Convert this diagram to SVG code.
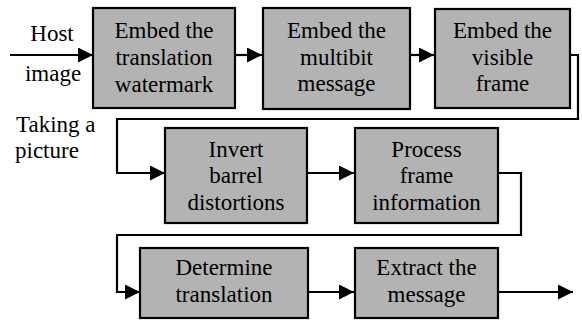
<svg xmlns="http://www.w3.org/2000/svg" width="582" height="321" viewBox="0 0 582 321">
<defs>
<marker id="ah" viewBox="0 0 15 15" refX="15" refY="7.5" markerWidth="15" markerHeight="15" markerUnits="userSpaceOnUse" orient="auto">
<path d="M0,0 L15,7.5 L0,15 Z" fill="#000"/>
</marker>
</defs>
<rect width="582" height="321" fill="#fff"/>
<g id="connectors" fill="none" stroke="#000" stroke-width="2.2">
<line x1="10" y1="55" x2="93" y2="55" marker-end="url(#ah)"/>
<line x1="235" y1="55" x2="262" y2="55" marker-end="url(#ah)"/>
<line x1="410" y1="55" x2="434" y2="55" marker-end="url(#ah)"/>
<polyline points="570,55 578,55 578,119 117,119 117,173 165,173" marker-end="url(#ah)"/>
<line x1="307" y1="173" x2="354" y2="173" marker-end="url(#ah)"/>
<polyline points="498,173 521,173 521,235 117,235 117,292 140,292" marker-end="url(#ah)"/>
<line x1="308" y1="292" x2="354" y2="292" marker-end="url(#ah)"/>
<line x1="498" y1="292" x2="573" y2="292" marker-end="url(#ah)"/>
</g>
<g font-family="Liberation Serif" font-size="23">
<g id="label-host" text-anchor="middle">
<text x="52" y="41">Host</text>
<text x="53" y="81">image</text>
</g>
<g id="label-taking">
<text x="16" y="132">Taking a</text>
<text x="15" y="158">picture</text>
</g>
<g id="n1" text-anchor="middle">
<rect x="93" y="8" width="142" height="100" fill="#b3b3b3" stroke="#000" stroke-width="2.2"/>
<text x="164" y="38">Embed the</text>
<text x="164" y="65">translation</text>
<text x="164" y="92">watermark</text>
</g>
<g id="n2" text-anchor="middle">
<rect x="263" y="8" width="147" height="101" fill="#b3b3b3" stroke="#000" stroke-width="2.2"/>
<text x="336.5" y="38">Embed the</text>
<text x="336.5" y="65">multibit</text>
<text x="336.5" y="91">message</text>
</g>
<g id="n3" text-anchor="middle">
<rect x="435" y="9" width="135" height="99" fill="#b3b3b3" stroke="#000" stroke-width="2.2"/>
<text x="502.5" y="38">Embed the</text>
<text x="502.5" y="65">visible</text>
<text x="502.5" y="91">frame</text>
</g>
<g id="n4" text-anchor="middle">
<rect x="165" y="128" width="142" height="95" fill="#b3b3b3" stroke="#000" stroke-width="2.2"/>
<text x="236" y="157">Invert</text>
<text x="236" y="183">barrel</text>
<text x="236" y="210">distortions</text>
</g>
<g id="n5" text-anchor="middle">
<rect x="355" y="128" width="143" height="95" fill="#b3b3b3" stroke="#000" stroke-width="2.2"/>
<text x="426.5" y="157">Process</text>
<text x="426.5" y="183">frame</text>
<text x="426.5" y="210">information</text>
</g>
<g id="n6" text-anchor="middle">
<rect x="140" y="248" width="168" height="70" fill="#b3b3b3" stroke="#000" stroke-width="2.2"/>
<text x="224" y="275">Determine</text>
<text x="224" y="302">translation</text>
</g>
<g id="n7" text-anchor="middle">
<rect x="355" y="248" width="143" height="70" fill="#b3b3b3" stroke="#000" stroke-width="2.2"/>
<text x="426.5" y="275">Extract the</text>
<text x="426.5" y="302">message</text>
</g>
</g>
</svg>
